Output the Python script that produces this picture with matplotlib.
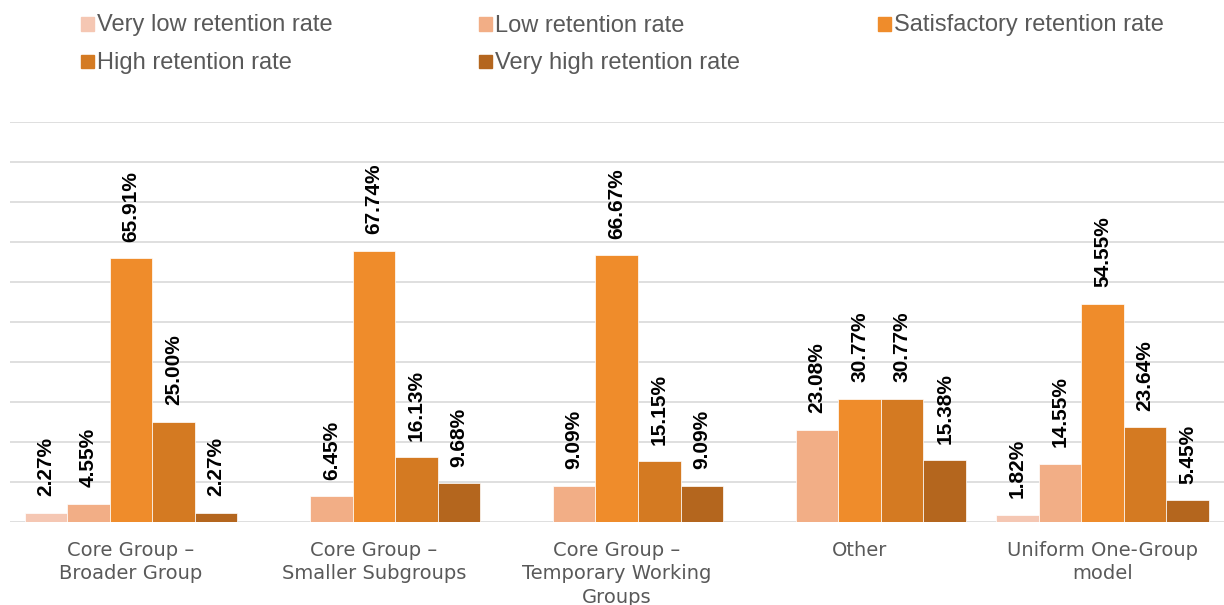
import matplotlib.pyplot as plt
import numpy as np
from matplotlib.patches import Rectangle

categories = ['Core Group –\nBroader Group',
              'Core Group –\nSmaller Subgroups',
              'Core Group –\nTemporary Working\nGroups',
              'Other',
              'Uniform One-Group\nmodel']
series = ['Very low retention rate', 'Low retention rate',
          'Satisfactory retention rate', 'High retention rate',
          'Very high retention rate']
very_low = [2.27, 0, 0, 0, 1.82]
low = [4.55, 6.45, 9.09, 23.08, 14.55]
satisfactory = [65.91, 67.74, 66.67, 30.77, 54.55]
high = [25.00, 16.13, 15.15, 30.77, 23.64]
very_high = [2.27, 9.68, 9.09, 15.38, 5.45]
colors = ['#F5C7B3', '#F2AE86', '#EF8C2B', '#D47A22', '#B4661E']

values = [very_low, low, satisfactory, high, very_high]

fig = plt.figure(figsize=(12.24, 6.05), dpi=100)
ax = fig.add_axes([9.5 / 1224, 83 / 605, 1 - 9.5 / 1224, 400 / 605])

x = np.arange(len(categories))
w = 0.175
for i, (vals, col) in enumerate(zip(values, colors)):
    pos = x + (i - 2) * w
    ax.bar(pos, vals, w, color=col, edgecolor='white', linewidth=0.5, zorder=3)
    for p, v in zip(pos, vals):
        if v == 0:
            continue
        ax.annotate('{:.2f}%'.format(v), (p, v), xytext=(0, 12),
                    textcoords='offset points', rotation=90,
                    ha='center', va='bottom', fontsize=15,
                    fontweight='bold', family='Liberation Sans',
                    color='black')

ax.set_xlim(-0.5, 4.5)
ax.set_ylim(0, 100)
ax.set_yticks(np.arange(0, 101, 10))
ax.yaxis.grid(True, color='#d9d9d9', linewidth=1.2, zorder=0)
ax.tick_params(axis='y', left=False, labelleft=False)
ax.tick_params(axis='x', bottom=False, pad=10)
for s in ax.spines.values():
    s.set_visible(False)
ax.set_xticks(x)
ax.set_xticklabels(categories, fontsize=14, color='#595959',
                   family='DejaVu Sans', linespacing=1.3)

# legend, placed by hand like the Excel one
legend_pos = [(81, 24), (479, 24), (878, 24), (81, 61.5), (479, 61.5)]
for (lx, ly), name, col in zip(legend_pos, series, colors):
    fig.patches.append(Rectangle((lx / 1224, 1 - (ly + 6.5) / 605),
                                 12.5 / 1224, 13 / 605, color=col,
                                 transform=fig.transFigure, figure=fig))
    fig.text((lx + 16) / 1224, 1 - (ly + 1.5) / 605, name, fontsize=17,
             color='#595959', family='Liberation Sans', va='center')

fig.savefig('out.png')
